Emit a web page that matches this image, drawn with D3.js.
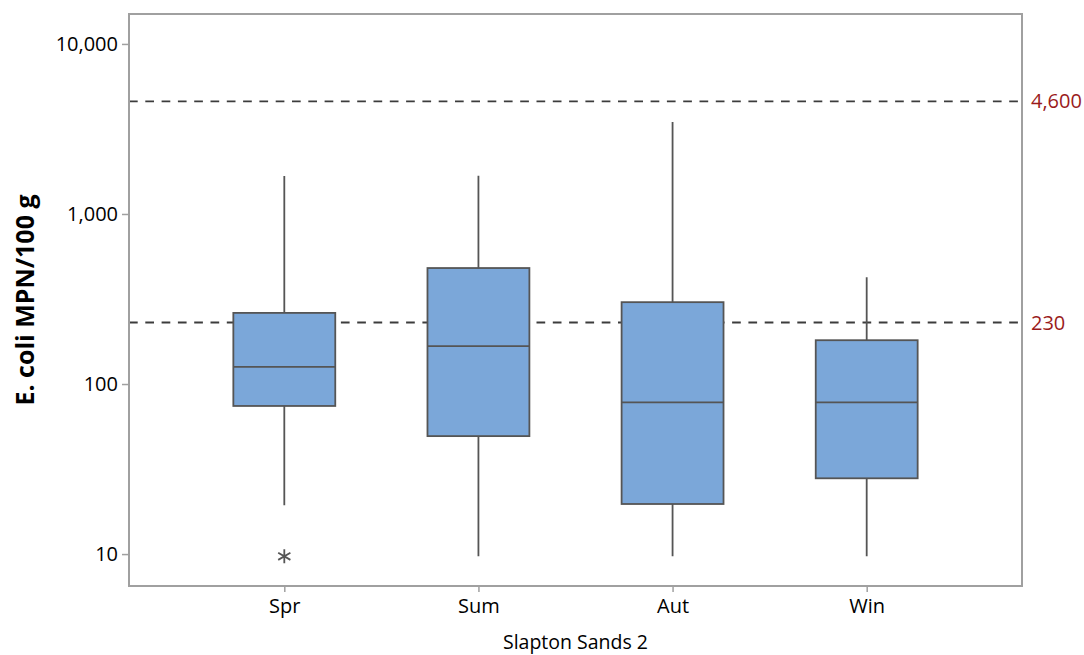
<!DOCTYPE html>
<html>
<head>
<meta charset="utf-8">
<script src="https://cdn.jsdelivr.net/npm/d3@7"></script>
<style>
  body { margin: 0; background: #fff; }
  text { font-family: "Open Sans", sans-serif; }
</style>
</head>
<body>
<div id="chart-area"></div>
<script>
// box plot data, E. coli MPN/100 g per season
var seasons   = ["Spr", "Sum", "Aut", "Win"];
var whiskLow  = [19.4, 9.7, 9.7, 9.7];
var q1s       = [74.3, 49.4, 19.7, 27.9];
var medians   = [126, 167, 78, 78];
var q3s       = [262, 481, 303, 181];
var whiskHigh = [1675, 1679, 3475, 425];
var outliers  = [{season: "Spr", value: 9.7}];
var refLines  = [4600, 230];
var refLabels = ["4,600", "230"];
var yTicks    = [10, 100, 1000, 10000];

var width = 1084, height = 655;
var margin = {top: 14, right: 62, bottom: 69, left: 129};
var w = width - margin.left - margin.right;
var h = height - margin.top - margin.bottom;

var svg = d3.select("#chart-area").append("svg")
	.attr("width", width)
	.attr("height", height);

var g = svg.append("g")
	.attr("transform", "translate(" + margin.left + ", " + margin.top + ")");

var x = d3.scalePoint()
	.domain(seasons)
	.range([0, w])
	.padding(0.8);

var y = d3.scaleLog()
	.domain([6.49, 15000])
	.range([h, 0]);

var boxW = x.step() * 0.525;
var boxes = seasons.map(function(s, i) {
	return {season: s, lo: whiskLow[i], q1: q1s[i], med: medians[i], q3: q3s[i], hi: whiskHigh[i]};
});

// reference lines
g.selectAll(".ref")
	.data(refLines)
	.enter().append("line")
		.attr("x1", 0).attr("x2", w)
		.attr("y1", function(d) { return y(d); })
		.attr("y2", function(d) { return y(d); })
		.attr("stroke", "#3c3c3c")
		.attr("stroke-width", 1.8)
		.attr("stroke-dasharray", "8.7,7.6");

g.selectAll(".ref-label")
	.data(refLines)
	.enter().append("text")
		.attr("x", w + 9)
		.attr("y", function(d) { return y(d); })
		.attr("dy", "0.35em")
		.attr("font-size", "20px")
		.attr("fill", "#9a1b1b")
		.text(function(d, i) { return refLabels[i]; });

// whiskers
var bx = g.selectAll(".box")
	.data(boxes)
	.enter().append("g")
		.attr("class", "box");

bx.append("line")
	.attr("x1", function(d) { return x(d.season); })
	.attr("x2", function(d) { return x(d.season); })
	.attr("y1", function(d) { return y(d.hi); })
	.attr("y2", function(d) { return y(d.lo); })
	.attr("stroke", "#555")
	.attr("stroke-width", 1.8);

bx.append("rect")
	.attr("x", function(d) { return x(d.season) - boxW / 2; })
	.attr("y", function(d) { return y(d.q3); })
	.attr("width", boxW)
	.attr("height", function(d) { return y(d.q1) - y(d.q3); })
	.attr("fill", "#7ba7d9")
	.attr("stroke", "#555")
	.attr("stroke-width", 1.8);

bx.append("line")
	.attr("x1", function(d) { return x(d.season) - boxW / 2; })
	.attr("x2", function(d) { return x(d.season) + boxW / 2; })
	.attr("y1", function(d) { return y(d.med); })
	.attr("y2", function(d) { return y(d.med); })
	.attr("stroke", "#555")
	.attr("stroke-width", 1.8);

// outliers drawn as asterisks
g.selectAll(".outlier")
	.data(outliers)
	.enter().append("path")
		.attr("transform", function(d) { return "translate(" + x(d.season) + "," + y(d.value) + ")"; })
		.attr("d", d3.symbol().type(d3.symbolAsterisk).size(140))
		.attr("fill", "none")
		.attr("stroke", "#555")
		.attr("stroke-width", 1.8);

// frame
g.append("rect")
	.attr("width", w)
	.attr("height", h)
	.attr("fill", "none")
	.attr("stroke", "#a0a0a0")
	.attr("stroke-width", 2);

// axes
var leftAxis = d3.axisLeft(y)
	.tickValues(yTicks)
	.tickSize(7)
	.tickSizeOuter(0)
	.tickPadding(4)
	.tickFormat(d3.format(","));

var yAxisG = g.append("g")
	.attr("class", "left axis")
	.call(leftAxis);
yAxisG.select(".domain").remove();
yAxisG.selectAll("line").attr("stroke", "#a0a0a0").attr("stroke-width", 1.5);
yAxisG.selectAll("text")
	.attr("font-size", "20px")
	.attr("font-family", "Open Sans")
	.attr("fill", "#000");

var xAxisCall = d3.axisBottom(x).tickSize(6).tickPadding(7);
var xAxisG = g.append("g")
	.attr("class", "bottom axis")
	.attr("transform", "translate(0, " + h + ")")
	.call(xAxisCall);
xAxisG.select(".domain").remove();
xAxisG.selectAll("line").attr("stroke", "#a0a0a0").attr("stroke-width", 1.5);
xAxisG.selectAll("text")
	.attr("font-size", "20px")
	.attr("font-family", "Open Sans")
	.attr("fill", "#000");

// Y Label
g.append("text")
	.attr("x", -(h / 2))
	.attr("y", -104)
	.attr("font-size", "25px")
	.attr("font-weight", "bold")
	.attr("text-anchor", "middle")
	.attr("dy", "0.35em")
	.attr("transform", "rotate(-90)")
	.text("E. coli MPN/100 g");

// X Label
g.append("text")
	.attr("x", w / 2)
	.attr("y", h + 56)
	.attr("font-size", "19.5px")
	.attr("text-anchor", "middle")
	.attr("dy", "0.35em")
	.text("Slapton Sands 2");
</script>
</body>
</html>
